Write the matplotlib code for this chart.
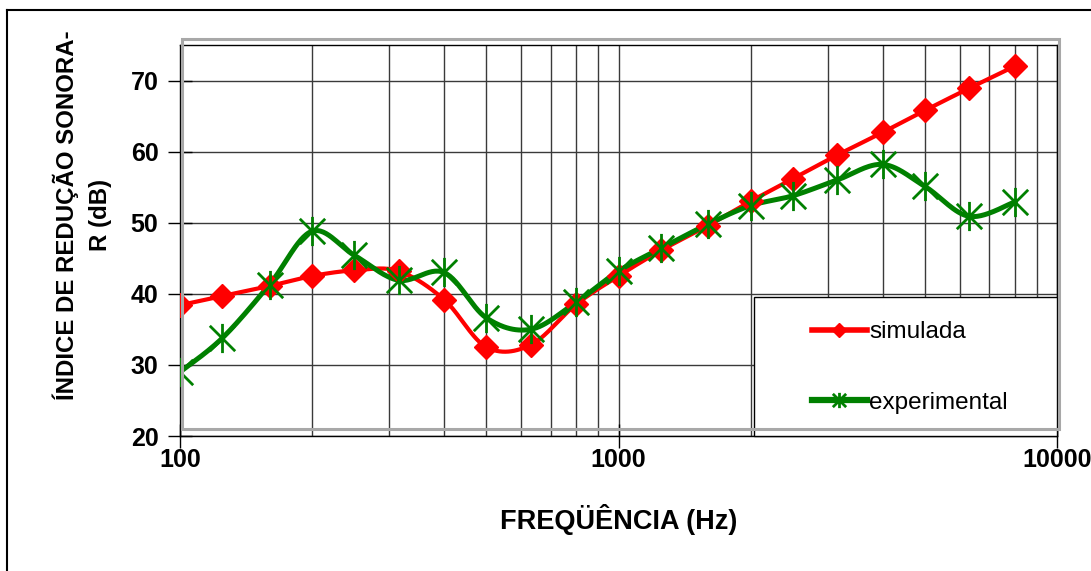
import numpy as np
import matplotlib
matplotlib.use("Agg")
import matplotlib.pyplot as plt
from matplotlib.path import Path
from matplotlib.patches import Rectangle
from matplotlib.lines import Line2D

# ---- data ----
freqs = [100, 125, 160, 200, 250, 315, 400, 500, 630, 800, 1000, 1250,
         1600, 2000, 2500, 3150, 4000, 5000, 6300, 8000]
simulada = [38.4, 39.7, 41.1, 42.5, 43.3, 43.2, 39.2, 32.5, 32.8, 38.5,
            42.5, 46.1, 49.6, 53.0, 56.2, 59.5, 62.7, 65.8, 68.9, 72.0]
experimental = [29.0, 33.8, 41.3, 48.8, 45.4, 41.9, 43.0, 36.6, 35.0, 38.8,
                43.2, 46.4, 49.8, 52.4, 53.8, 56.0, 58.2, 55.1, 50.9, 52.9]
yticks = [20, 30, 40, 50, 60, 70]
xticks = [100, 1000, 10000]
xticklabels = ["100", "1000", "10000"]
label_sim = "simulada"
label_exp = "experimental"
xlabel = "FREQÜÊNCIA (Hz)"
ylabel = "ÍNDICE DE REDUÇÃO SONORA-\nR (dB)"

plt.rcParams['font.family'] = ['Liberation Sans', 'DejaVu Sans']

W, H = 1091, 571
fig = plt.figure(figsize=(W / 100, H / 100), dpi=100)

def fx(px):
    return px / W

def fy(py):
    return 1 - py / H

ax = fig.add_axes([fx(180), fy(436), fx(1057) - fx(180), fy(45) - fy(436)])
ax.set_xscale('log')
ax.set_xlim(100, 10000)
ax.set_ylim(20, 75)

# smoothed (Excel-like Catmull-Rom) curve in display-like coordinates
def smooth(xs, ys, n=30):
    u = np.log10(np.asarray(xs, float)) * 292.0
    v = np.asarray(ys, float) * 7.1
    P = np.column_stack([u, v])
    Pp = np.vstack([P[0], P, P[-1]])
    out = []
    for i in range(len(P) - 1):
        p0, p1, p2, p3 = Pp[i], Pp[i + 1], Pp[i + 2], Pp[i + 3]
        c1 = p1 + (p2 - p0) / 6.0
        c2 = p2 - (p3 - p1) / 6.0
        t = np.linspace(0, 1, n, endpoint=(i == len(P) - 2))[:, None]
        seg = ((1 - t) ** 3) * p1 + 3 * ((1 - t) ** 2) * t * c1 + 3 * (1 - t) * t ** 2 * c2 + t ** 3 * p2
        out.append(seg)
    S = np.vstack(out)
    return 10 ** (S[:, 0] / 292.0), S[:, 1] / 7.1

red = '#FF0000'
green = '#008000'

star = Path([(-1, -1), (1, 1), (-1, 1), (1, -1), (0, -1.15), (0, 1.15)],
            [Path.MOVETO, Path.LINETO, Path.MOVETO, Path.LINETO, Path.MOVETO, Path.LINETO])

sx, sy = smooth(freqs, simulada)
ex, ey = smooth(freqs, experimental)
ax.plot(sx, sy, color=red, lw=3.0, zorder=3, solid_capstyle='round')
ax.plot(freqs, simulada, ls='none', marker='D', ms=12, color=red, mec=red, mew=1, zorder=4)
ax.plot(ex, ey, color=green, lw=3.6, zorder=3, solid_capstyle='round')
ax.plot(freqs, experimental, ls='none', marker=star, ms=21, color=green, mec=green, mew=2.0, zorder=4)

# grid
ax.set_yticks(yticks)
ax.set_xticks(xticks)
ax.set_xticklabels(xticklabels)
ax.xaxis.set_minor_locator(matplotlib.ticker.LogLocator(base=10, subs=np.arange(2, 10)))
ax.xaxis.set_minor_formatter(matplotlib.ticker.NullFormatter())
ax.grid(True, which='major', axis='y', color='#3a3a3a', lw=1.0, zorder=1)
ax.grid(True, which='both', axis='x', color='#3a3a3a', lw=1.0, zorder=1)
ax.tick_params(axis='x', which='minor', length=0)
ax.tick_params(axis='both', which='major', direction='inout', length=17, width=1.0,
               color='black', labelsize=18)
ax.tick_params(axis='y', pad=7)
ax.tick_params(axis='x', pad=0)
for lab in ax.get_xticklabels() + ax.get_yticklabels():
    lab.set_fontweight('bold')
for s in ax.spines.values():
    s.set_color('black')
    s.set_linewidth(1.0)

ax.set_xlabel(xlabel, fontsize=19.5, fontweight='bold', labelpad=23)

fig.text(fx(82), fy(215), ylabel, rotation=90, ha='center', va='center',
         multialignment='center', fontsize=17.3, fontweight='bold', linespacing=1.55)

# grey plot-area frame (Excel artefact)
fig.patches.append(Rectangle((fx(182), fy(429)), fx(1059) - fx(182), fy(39) - fy(429),
                             transform=fig.transFigure, fill=False, ec='#a8a8a8', lw=2.2, zorder=0))

# legend box
leg_rect = Rectangle((fx(754), fy(436)), fx(1057) - fx(754), fy(297) - fy(436),
                     transform=fig.transFigure, fc='white', ec='black', lw=1.0, zorder=5, clip_on=False)
ax.add_patch(leg_rect)
handles = [Line2D([], [], color=red, lw=4, marker='D', ms=7, mec=red),
           Line2D([], [], color=green, lw=4.5, marker=star, ms=11, mew=2, mec=green)]
leg = ax.legend(handles, [label_sim, label_exp], loc='upper left',
                bbox_to_anchor=(fx(812), fy(321)), bbox_transform=fig.transFigure,
                frameon=False, fontsize=17.5, handlelength=2.25, handletextpad=0.1,
                labelspacing=2.0, borderaxespad=0, borderpad=0)
leg.set_zorder(6)

# outer border lines (top and left only visible)
fig.add_artist(Line2D([fx(7), 1], [fy(10), fy(10)], transform=fig.transFigure, color='black', lw=1.5))
fig.add_artist(Line2D([fx(7), fx(7)], [0, fy(10)], transform=fig.transFigure, color='black', lw=1.5))

fig.savefig('out.png', dpi=100, facecolor='white')
